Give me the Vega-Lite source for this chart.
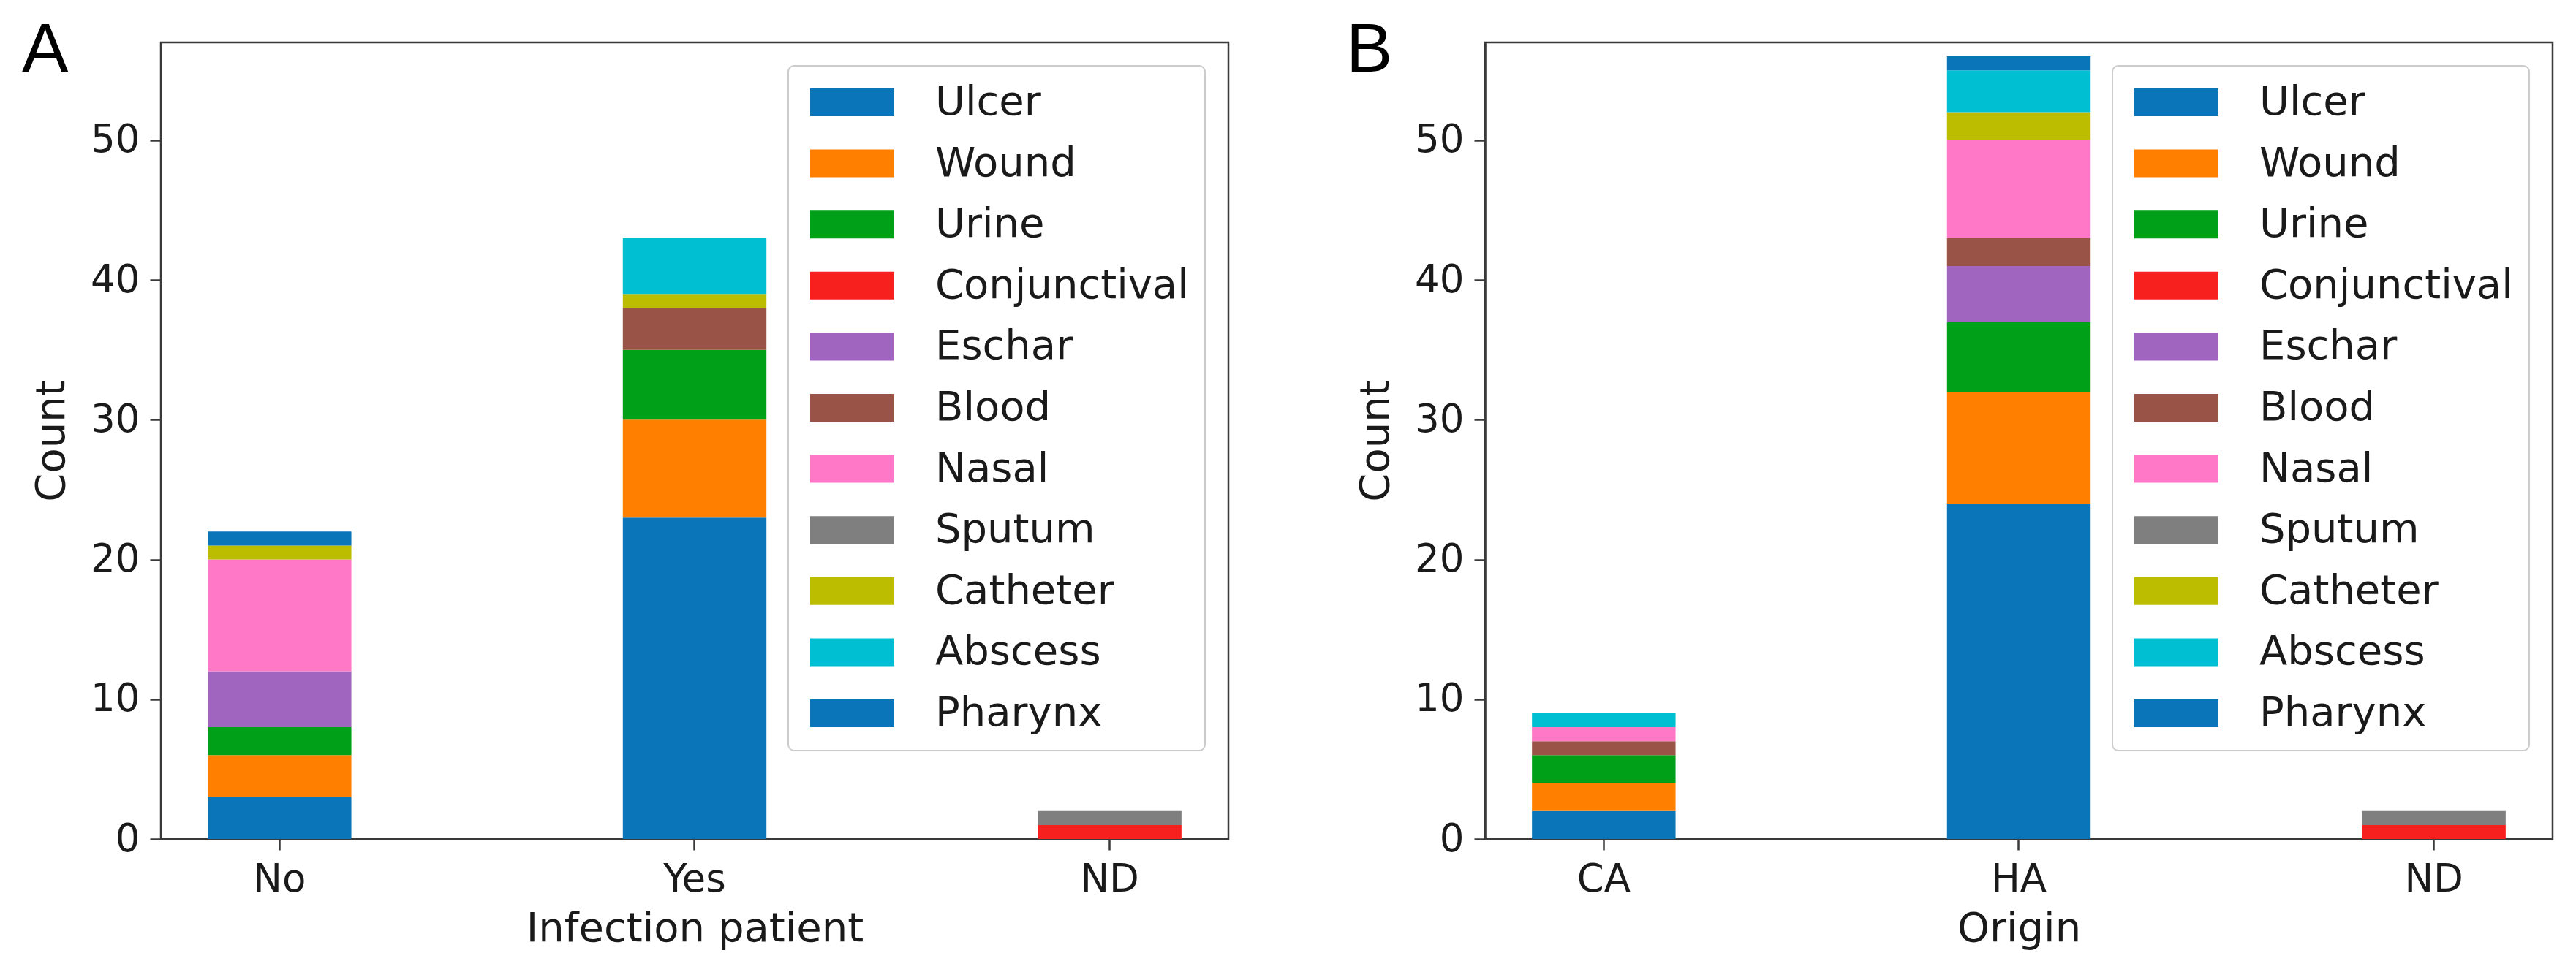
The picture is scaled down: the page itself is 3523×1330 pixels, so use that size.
{
  "$schema": "https://vega.github.io/schema/vega-lite/v6.json",
  "background": "white",
  "padding": {"left": 28, "top": 20, "right": 5, "bottom": 5},
  "config": {
    "font": "DejaVu Sans",
    "view": {"stroke": "#3a3a3a", "strokeWidth": 2.5},
    "axis": {
      "labelFont": "DejaVu Sans", "labelFontSize": 53, "labelColor": "#1a1a1a",
      "titleFont": "DejaVu Sans", "titleFontSize": 56, "titleFontWeight": "normal", "titleColor": "#1a1a1a",
      "tickSize": 15, "tickWidth": 2.5, "tickColor": "#3a3a3a",
      "domainColor": "#3a3a3a", "domainWidth": 2.5, "grid": false, "labelPadding": 14
    },
    "axisX": {"labelAngle": 0, "titlePadding": 13},
    "axisY": {"titlePadding": 24},
    "legend": {
      "orient": "top-right", "offset": 32, "padding": 22,
      "fillColor": "white", "strokeColor": "#cccccc", "strokeWidth": 2, "cornerRadius": 8,
      "labelFont": "DejaVu Sans", "labelFontSize": 56, "labelColor": "#1a1a1a", "labelLimit": 0,
      "symbolType": "M-1,-0.95H4.75V0.95H-1Z", "symbolSize": 1600, "symbolStrokeWidth": 0, "symbolOpacity": 1,
      "labelOffset": 123, "rowPadding": 27.6, "title": null
    },
    "title": {"font": "Liberation Sans", "fontSize": 95, "fontWeight": "normal", "anchor": "start", "frame": "group", "color": "black"},
    "concat": {"spacing": 157}
  },
  "data": {"values": [
    {"panel": "A", "cat": "No", "site": "Ulcer", "k": 0, "n": 3},
    {"panel": "A", "cat": "No", "site": "Wound", "k": 1, "n": 3},
    {"panel": "A", "cat": "No", "site": "Urine", "k": 2, "n": 2},
    {"panel": "A", "cat": "No", "site": "Eschar", "k": 4, "n": 4},
    {"panel": "A", "cat": "No", "site": "Nasal", "k": 6, "n": 8},
    {"panel": "A", "cat": "No", "site": "Catheter", "k": 8, "n": 1},
    {"panel": "A", "cat": "No", "site": "Pharynx", "k": 10, "n": 1},
    {"panel": "A", "cat": "Yes", "site": "Ulcer", "k": 0, "n": 23},
    {"panel": "A", "cat": "Yes", "site": "Wound", "k": 1, "n": 7},
    {"panel": "A", "cat": "Yes", "site": "Urine", "k": 2, "n": 5},
    {"panel": "A", "cat": "Yes", "site": "Blood", "k": 5, "n": 3},
    {"panel": "A", "cat": "Yes", "site": "Catheter", "k": 8, "n": 1},
    {"panel": "A", "cat": "Yes", "site": "Abscess", "k": 9, "n": 4},
    {"panel": "A", "cat": "ND", "site": "Conjunctival", "k": 3, "n": 1},
    {"panel": "A", "cat": "ND", "site": "Sputum", "k": 7, "n": 1},
    {"panel": "B", "cat": "CA", "site": "Ulcer", "k": 0, "n": 2},
    {"panel": "B", "cat": "CA", "site": "Wound", "k": 1, "n": 2},
    {"panel": "B", "cat": "CA", "site": "Urine", "k": 2, "n": 2},
    {"panel": "B", "cat": "CA", "site": "Blood", "k": 5, "n": 1},
    {"panel": "B", "cat": "CA", "site": "Nasal", "k": 6, "n": 1},
    {"panel": "B", "cat": "CA", "site": "Abscess", "k": 9, "n": 1},
    {"panel": "B", "cat": "HA", "site": "Ulcer", "k": 0, "n": 24},
    {"panel": "B", "cat": "HA", "site": "Wound", "k": 1, "n": 8},
    {"panel": "B", "cat": "HA", "site": "Urine", "k": 2, "n": 5},
    {"panel": "B", "cat": "HA", "site": "Eschar", "k": 4, "n": 4},
    {"panel": "B", "cat": "HA", "site": "Blood", "k": 5, "n": 2},
    {"panel": "B", "cat": "HA", "site": "Nasal", "k": 6, "n": 7},
    {"panel": "B", "cat": "HA", "site": "Catheter", "k": 8, "n": 2},
    {"panel": "B", "cat": "HA", "site": "Abscess", "k": 9, "n": 3},
    {"panel": "B", "cat": "HA", "site": "Pharynx", "k": 10, "n": 1},
    {"panel": "B", "cat": "ND", "site": "Conjunctival", "k": 3, "n": 1},
    {"panel": "B", "cat": "ND", "site": "Sputum", "k": 7, "n": 1}
  ]},
  "hconcat": [
    {
      "width": 1460, "height": 1090,
      "title": {"text": "A", "dx": -190, "offset": -60},
      "transform": [{"filter": "datum.panel === 'A'"}],
      "mark": {"type": "bar"},
      "encoding": {
        "x": {"field": "cat", "type": "nominal", "sort": ["No", "Yes", "ND"], "title": "Infection patient",
              "scale": {"paddingInner": 0.654, "paddingOuter": 0.113}},
        "y": {"field": "n", "type": "quantitative", "stack": "zero", "aggregate": "sum", "title": "Count",
              "scale": {"domain": [0, 57], "nice": false}, "axis": {"values": [0, 10, 20, 30, 40, 50]}},
        "color": {"field": "site", "type": "nominal",
                  "scale": {"domain": ["Ulcer", "Wound", "Urine", "Conjunctival", "Eschar", "Blood", "Nasal", "Sputum", "Catheter", "Abscess", "Pharynx"],
                            "range": ["#0a75b8", "#ff7f00", "#00a019", "#f8201f", "#a066bf", "#9a5447", "#ff78c7", "#7f7f7f", "#bcbd00", "#00bfd2", "#0a75b8"]}},
        "order": {"field": "k", "type": "quantitative", "aggregate": "min"}
      }
    },
    {
      "width": 1460, "height": 1090,
      "title": {"text": "B", "dx": -190, "offset": -60},
      "transform": [{"filter": "datum.panel === 'B'"}],
      "mark": {"type": "bar"},
      "encoding": {
        "x": {"field": "cat", "type": "nominal", "sort": ["CA", "HA", "ND"], "title": "Origin",
              "scale": {"paddingInner": 0.654, "paddingOuter": 0.113}},
        "y": {"field": "n", "type": "quantitative", "stack": "zero", "aggregate": "sum", "title": "Count",
              "scale": {"domain": [0, 57], "nice": false}, "axis": {"values": [0, 10, 20, 30, 40, 50]}},
        "color": {"field": "site", "type": "nominal",
                  "scale": {"domain": ["Ulcer", "Wound", "Urine", "Conjunctival", "Eschar", "Blood", "Nasal", "Sputum", "Catheter", "Abscess", "Pharynx"],
                            "range": ["#0a75b8", "#ff7f00", "#00a019", "#f8201f", "#a066bf", "#9a5447", "#ff78c7", "#7f7f7f", "#bcbd00", "#00bfd2", "#0a75b8"]}},
        "order": {"field": "k", "type": "quantitative", "aggregate": "min"}
      }
    }
  ],
  "resolve": {"scale": {"color": "independent", "x": "independent", "y": "independent"}, "legend": {"color": "independent"}}
}
